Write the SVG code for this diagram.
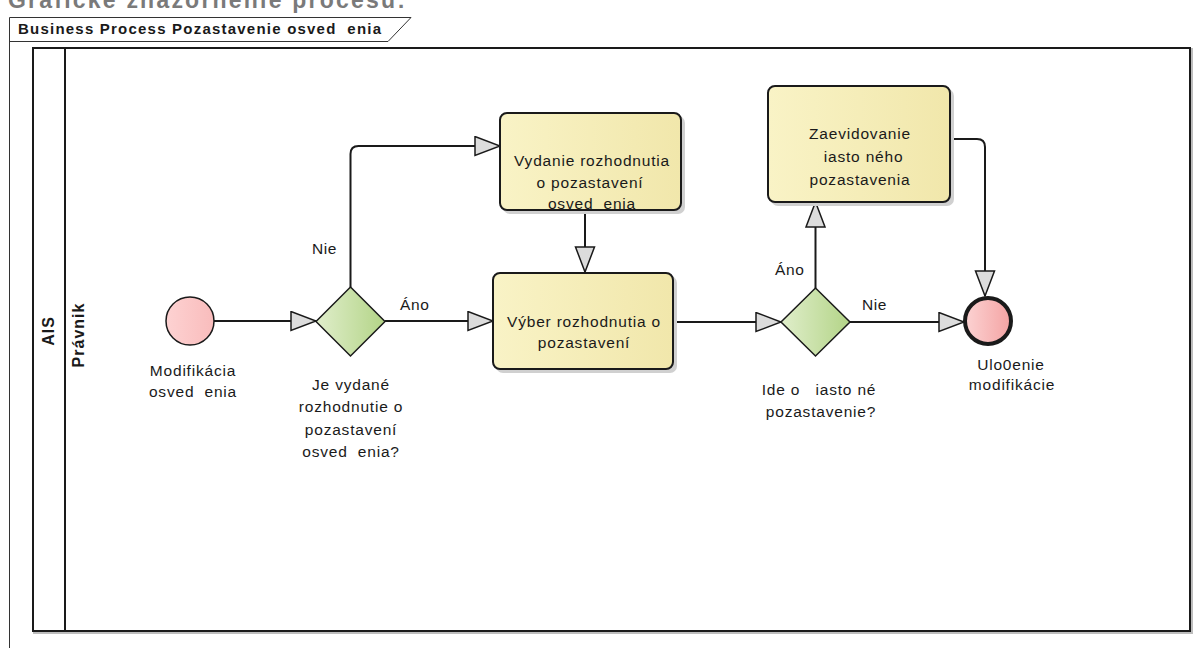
<svg xmlns="http://www.w3.org/2000/svg" width="1203" height="648" viewBox="0 0 1203 648">
  <style>
    text { font-family: "Liberation Sans", Arial, sans-serif; fill: #1a1a1a; white-space: pre; }
    .lbl { font-size: 15.5px; letter-spacing: 0.8px; text-anchor: middle; }
    .edge-lbl { font-size: 15.5px; letter-spacing: 0.6px; }
    .hdr { font-size: 15px; font-weight: bold; }
    .lane { font-size: 16px; font-weight: bold; text-anchor: middle; letter-spacing: 1px; }
    .flow { fill: none; stroke: #1a1a1a; stroke-width: 2; marker-end: url(#arrow); }
    .task { stroke: #1a1a1a; stroke-width: 2; fill: url(#taskFill); }
    .shadow { fill: #d0d0d0; }
    .gw { stroke: #1a1a1a; stroke-width: 1.5; fill: url(#gwFill); }
  </style>
  <defs>
    <linearGradient id="taskFill" x1="0" y1="0" x2="1" y2="0">
      <stop offset="0" stop-color="#f9f3c6"/>
      <stop offset="1" stop-color="#f1e7ab"/>
    </linearGradient>
    <linearGradient id="gwFill" x1="0" y1="0" x2="1" y2="0">
      <stop offset="0" stop-color="#e0eecb"/>
      <stop offset="1" stop-color="#b3d487"/>
    </linearGradient>
    <linearGradient id="startFill" x1="0" y1="0" x2="1" y2="0">
      <stop offset="0" stop-color="#fdd2d2"/>
      <stop offset="1" stop-color="#f9bcbc"/>
    </linearGradient>
    <linearGradient id="endFill" x1="0" y1="0" x2="1" y2="0">
      <stop offset="0" stop-color="#fcd3d3"/>
      <stop offset="1" stop-color="#f4a3a3"/>
    </linearGradient>
    <marker id="arrow" markerUnits="userSpaceOnUse" markerWidth="28" markerHeight="22" viewBox="-1 -1 28 22" refX="25" refY="9.5" orient="auto">
      <path d="M0,0 L25,9.5 L0,19 Z" fill="#dcdcdc" stroke="#1a1a1a" stroke-width="1.5" stroke-linejoin="miter"/>
    </marker>
  </defs>

  <rect width="1203" height="648" fill="#ffffff"/>

  <!-- page heading, clipped at the top edge -->
  <text x="8" y="8" font-size="23" font-weight="bold" style="fill:#7a7a7a" textLength="397" lengthAdjust="spacing">Grafické znázornenie procesu:</text>

  <!-- diagram frame with name tab -->
  <g id="frame" fill="none" stroke="#333333" stroke-width="1">
    <path d="M9.5,648 V17.5 H411 L388,41.5 H9.5"/>
  </g>
  <text class="hdr" x="18" y="34" textLength="363" lengthAdjust="spacing">Business Process Pozastavenie osved  enia</text>

  <!-- pool and lane -->
  <g id="pool-AIS">
    <rect x="34" y="49" width="1158" height="584" fill="none" stroke="#bdbdbd" stroke-width="2"/>
    <rect x="33" y="48" width="1157" height="583" fill="#ffffff" stroke="#1a1a1a" stroke-width="2"/>
    <line x1="65" y1="48" x2="65" y2="631" stroke="#1a1a1a" stroke-width="2"/>
    <text class="lane" transform="translate(54,331) rotate(-90)">AIS</text>
  </g>
  <g id="lane-Pravnik">
    <text class="lane" transform="translate(84,335) rotate(-90)">Právnik</text>
  </g>

  <!-- sequence flows -->
  <g id="connectors">
    <path class="flow" d="M214,321 H316"/>
    <path class="flow" d="M350.5,287 V154 Q350.5,146 358.5,146 H500"/>
    <path class="flow" d="M385,321 H493"/>
    <path class="flow" d="M585,210 V272"/>
    <path class="flow" d="M673,322 H781"/>
    <path class="flow" d="M815.5,288 V202"/>
    <path class="flow" d="M850,322 H964"/>
    <path class="flow" d="M950,139 H977 Q985,139 985,147 V296"/>
    <text class="edge-lbl" x="312" y="254">Nie</text>
    <text class="edge-lbl" x="400" y="310">Áno</text>
    <text class="edge-lbl" x="775" y="275">Áno</text>
    <text class="edge-lbl" x="862" y="310">Nie</text>
  </g>

  <!-- start event -->
  <g id="start-modifikacia">
    <circle cx="190" cy="321" r="24" fill="url(#startFill)" stroke="#1a1a1a" stroke-width="1.5"/>
    <text class="lbl" x="193" y="376">Modifikácia</text>
    <text class="lbl" x="193" y="397">osved  enia</text>
  </g>

  <!-- gateway: decision issued? -->
  <g id="gw-vydane">
    <path class="gw" d="M350.5,287 L385,321.5 L350.5,356 L316,321.5 Z"/>
    <text class="lbl" x="351" y="390">Je vydané</text>
    <text class="lbl" x="351" y="412">rozhodnutie o</text>
    <text class="lbl" x="351" y="435">pozastavení</text>
    <text class="lbl" x="351" y="457">osved  enia?</text>
  </g>

  <!-- task: issue decision -->
  <g id="task-vydanie">
    <rect class="shadow" x="503" y="116" width="182" height="98" rx="7"/>
    <rect class="task" x="500" y="113" width="181" height="97" rx="7"/>
    <text class="lbl" x="592" y="166">Vydanie rozhodnutia</text>
    <text class="lbl" x="590" y="188">o pozastavení</text>
    <text class="lbl" x="592" y="209">osved  enia</text>
  </g>

  <!-- task: select decision -->
  <g id="task-vyber">
    <rect class="shadow" x="496" y="276" width="181" height="97" rx="7"/>
    <rect class="task" x="493" y="273" width="180" height="96" rx="7"/>
    <text class="lbl" x="584" y="327">Výber rozhodnutia o</text>
    <text class="lbl" x="584" y="348">pozastavení</text>
  </g>

  <!-- gateway: partial suspension? -->
  <g id="gw-ciastocne">
    <path class="gw" d="M815.5,288 L850,322 L815.5,356 L781,322 Z"/>
    <text class="lbl" x="819" y="395">Ide o   iasto né</text>
    <text class="lbl" x="821" y="417">pozastavenie?</text>
  </g>

  <!-- task: record partial suspension -->
  <g id="task-zaevidovanie">
    <rect class="shadow" x="771" y="89" width="183" height="117" rx="7"/>
    <rect class="task" x="768" y="86" width="182" height="116" rx="7"/>
    <text class="lbl" x="860" y="139">Zaevidovanie</text>
    <text class="lbl" x="861" y="162"> iasto ného</text>
    <text class="lbl" x="860" y="185">pozastavenia</text>
  </g>

  <!-- end event -->
  <g id="end-ulozenie">
    <circle cx="988" cy="321" r="23" fill="url(#endFill)" stroke="#1a1a1a" stroke-width="4"/>
    <text class="lbl" x="1011" y="370">Ulo0enie</text>
    <text class="lbl" x="1012" y="390">modifikácie</text>
  </g>
</svg>
